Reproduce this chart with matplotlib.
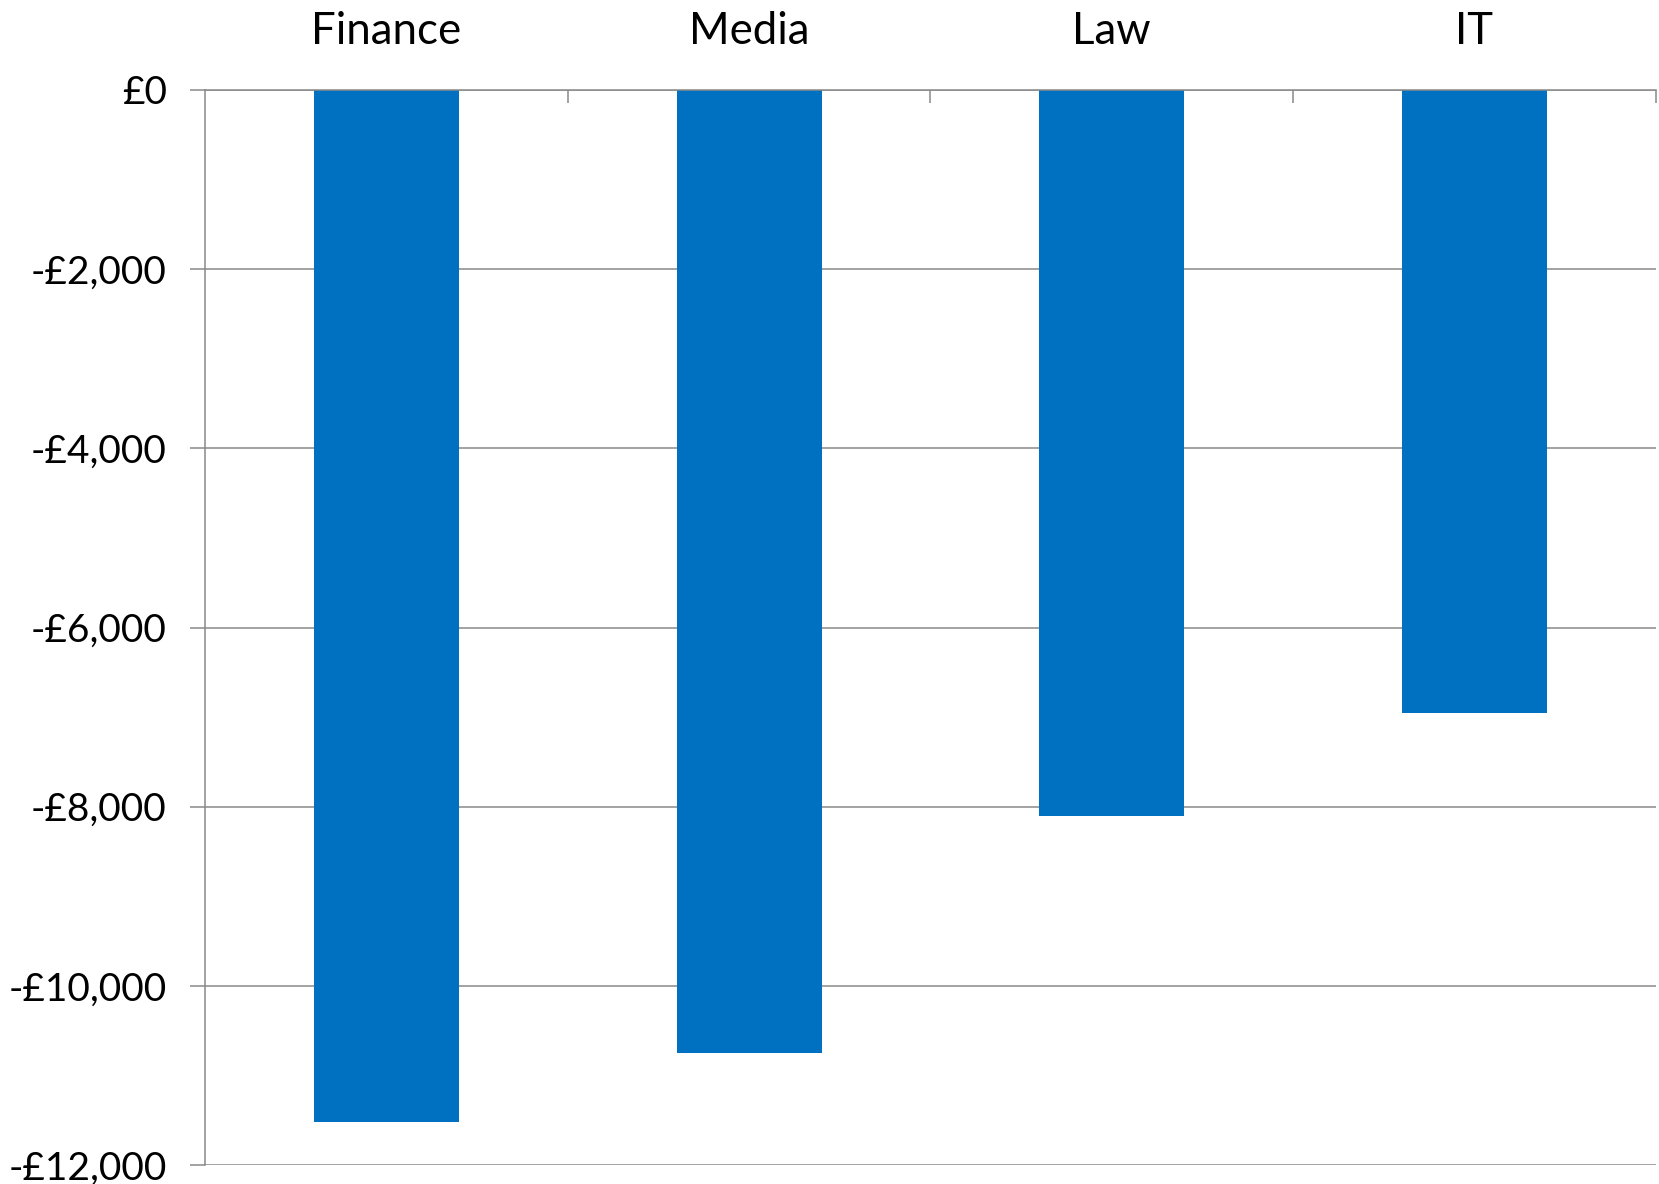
import numpy as np
import matplotlib
matplotlib.use('Agg')
import matplotlib.pyplot as plt
from matplotlib.ticker import FuncFormatter, FixedLocator

plt.rcParams['font.family'] = ['Lato', 'DejaVu Sans']

# 各行业的变化（英镑）
categories = ['Finance', 'Media', 'Law', 'IT']
values = [-11520, -10750, -8100, -6950]
y_ticks = [0, -2000, -4000, -6000, -8000, -10000, -12000]

grid_col = '#898989'
bar_col = '#0070C0'

fig = plt.figure(figsize=(16.59, 11.84), dpi=100)
ax = fig.add_axes([0.1236, 0.016, 0.8744, 0.908])

x = np.arange(len(categories))
ax.bar(x, values, width=0.4, color=bar_col, zorder=3)

ax.set_xlim(-0.5, len(categories) - 0.5)
ax.set_ylim(-12000, 0)

# y轴：货币格式
def gbp(v, pos):
    v = int(round(v))
    if v < 0:
        return '-£{:,}'.format(-v)
    return '£{:,}'.format(v)

ax.yaxis.set_major_locator(FixedLocator(y_ticks))
ax.yaxis.set_major_formatter(FuncFormatter(gbp))
ax.tick_params(axis='y', which='major', length=10.5, width=1.1, color=grid_col,
               direction='out', pad=17, labelsize=28)
ax.yaxis.grid(True, color=grid_col, linewidth=1.1, zorder=0)

# x轴放在顶部，分类边界处画刻度
ax.xaxis.tick_top()
ax.set_xticks(x)
ax.set_xticklabels(categories)
ax.set_xticks(np.arange(0.5, len(categories)), minor=True)
ax.tick_params(axis='x', which='major', length=0, pad=27, labelsize=31.5)
ax.tick_params(axis='x', which='minor', length=9, width=1.1, color=grid_col,
               direction='in', top=True, bottom=False)

for s in ['right', 'bottom']:
    ax.spines[s].set_visible(False)
for s in ['top', 'left']:
    ax.spines[s].set_color(grid_col)
    ax.spines[s].set_linewidth(1.1)
    ax.spines[s].set_zorder(4)

fig.savefig('out.png', dpi=100)
